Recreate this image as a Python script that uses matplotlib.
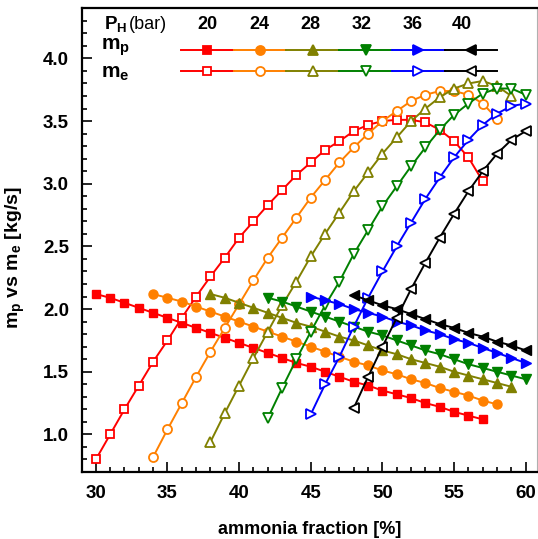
import matplotlib
matplotlib.use("Agg")
import matplotlib.pyplot as plt
import numpy as np

plt.rcParams["font.family"] = ["Liberation Sans", "DejaVu Sans"]
plt.rcParams["font.weight"] = "bold"
plt.rcParams["mathtext.fontset"] = "custom"
plt.rcParams["mathtext.rm"] = "Liberation Sans:bold"
plt.rcParams["mathtext.bf"] = "Liberation Sans:bold"
plt.rcParams["mathtext.it"] = "Liberation Sans:bold"
plt.rcParams["mathtext.default"] = "bf"

# high-side pressure levels (bar) and the ammonia fraction range of each curve
pressures = [20, 24, 28, 32, 36, 40]
x_start = [30, 34, 38, 42, 45, 48]
x_end = [57, 58, 59, 60, 60, 60]

# m_p [kg/s]
mp_20 = [2.12, 2.09, 2.05, 2.01, 1.97, 1.93, 1.89, 1.85, 1.81, 1.77, 1.73, 1.69, 1.65, 1.61,
         1.57, 1.54, 1.50, 1.46, 1.42, 1.39, 1.35, 1.32, 1.29, 1.25, 1.22, 1.18, 1.15, 1.12]
mp_24 = [2.12, 2.09, 2.06, 2.02, 1.98, 1.94, 1.90, 1.86, 1.82, 1.78, 1.74, 1.70, 1.66, 1.62,
         1.58, 1.55, 1.51, 1.48, 1.44, 1.41, 1.37, 1.34, 1.31, 1.27, 1.24]
mp_28 = [2.12, 2.09, 2.05, 2.01, 1.97, 1.93, 1.89, 1.86, 1.82, 1.78, 1.75, 1.71, 1.67, 1.64,
         1.60, 1.57, 1.54, 1.50, 1.47, 1.44, 1.41, 1.38]
mp_32 = [2.09, 2.06, 2.02, 1.98, 1.94, 1.90, 1.86, 1.82, 1.79, 1.75, 1.71, 1.67, 1.64, 1.60,
         1.56, 1.53, 1.50, 1.47, 1.44]
mp_36 = [2.10, 2.07, 2.04, 2.00, 1.97, 1.94, 1.90, 1.87, 1.83, 1.80, 1.76, 1.73, 1.69, 1.65,
         1.61, 1.57]
mp_40 = [2.11, 2.07, 2.03, 2.00, 1.96, 1.92, 1.88, 1.85, 1.81, 1.78, 1.74, 1.71, 1.67]

# m_e [kg/s]
me_20 = [0.80, 1.00, 1.20, 1.39, 1.58, 1.75, 1.93, 2.10, 2.26, 2.41, 2.57, 2.70, 2.83, 2.95,
         3.07, 3.17, 3.27, 3.34, 3.42, 3.47, 3.50, 3.51, 3.51, 3.49, 3.43, 3.34, 3.21, 3.02]
me_24 = [0.82, 1.04, 1.25, 1.46, 1.66, 1.85, 2.04, 2.23, 2.41, 2.57, 2.73, 2.89, 3.03, 3.17,
         3.29, 3.40, 3.50, 3.58, 3.66, 3.71, 3.74, 3.74, 3.71, 3.64, 3.52]
me_28 = [0.94, 1.17, 1.39, 1.61, 1.82, 2.03, 2.22, 2.42, 2.60, 2.77, 2.94, 3.09, 3.24, 3.37,
         3.50, 3.60, 3.69, 3.76, 3.80, 3.82, 3.78, 3.70]
me_32 = [1.13, 1.37, 1.60, 1.82, 2.03, 2.22, 2.44, 2.63, 2.82, 2.98, 3.14, 3.29, 3.43, 3.55,
         3.64, 3.72, 3.76, 3.76, 3.71]
me_36 = [1.16, 1.40, 1.62, 1.86, 2.09, 2.30, 2.50, 2.69, 2.88, 3.05, 3.21, 3.35, 3.47, 3.56,
         3.62, 3.64]
me_40 = [1.21, 1.46, 1.70, 1.93, 2.16, 2.37, 2.57, 2.76, 2.94, 3.10, 3.24, 3.35, 3.42]

mp_all = [mp_20, mp_24, mp_28, mp_32, mp_36, mp_40]
me_all = [me_20, me_24, me_28, me_32, me_36, me_40]

colors = ["#ff0000", "#ff8000", "#808000", "#008000", "#0000ff", "#000000"]
markers = ["s", "o", "^", "v", ">", "<"]
msizes = [6, 6.5, 7, 7, 7, 7]

fig = plt.figure(figsize=(5.38, 5.39), dpi=100)
ax = fig.add_axes([0.1515, 0.1243, 0.847, 0.8603])

for i in range(len(pressures)):
    x = np.arange(x_start[i], x_end[i] + 1)
    ax.plot(x, mp_all[i], color=colors[i], marker=markers[i], ms=msizes[i],
            mfc=colors[i], mec=colors[i], lw=1.4, zorder=3)
    ax.plot(x, me_all[i], color=colors[i], marker=markers[i], ms=msizes[i],
            mfc="white", mec=colors[i], mew=1.3, lw=1.4, zorder=3)

ax.set_xlim(29.0, 60.8)
ax.set_ylim(0.7, 4.4)
ax.set_xticks(np.arange(30, 61, 5))
ax.set_xticks(np.arange(30, 61, 1), minor=True)
ax.set_yticks(np.arange(1.0, 4.01, 0.5))
ax.set_yticks(np.arange(0.8, 4.35, 0.1), minor=True)
ax.yaxis.set_major_formatter(matplotlib.ticker.FormatStrFormatter("%.1f"))

ax.tick_params(which="both", direction="in", top=False, right=False, width=1.2,
               labelsize=13.5)
ax.tick_params(which="major", length=7, pad=9)
ax.tick_params(which="minor", length=3.6)
for lab in ax.get_xticklabels() + ax.get_yticklabels():
    lab.set_fontweight("bold")

for side in ["left", "bottom", "top"]:
    ax.spines[side].set_linewidth(1.6)
ax.spines["right"].set_linewidth(0.8)
ax.spines["right"].set_color("#b0b0b0")

ax.set_xlabel("ammonia fraction [%]", fontsize=13, fontweight="bold")
ax.set_ylabel("$m_p$ vs $m_e$ [kg/s]", fontsize=14, fontweight="bold")
ax.xaxis.set_label_coords(0.501, -0.105)
ax.yaxis.set_label_coords(-0.12, 0.463)

# hand-made legend in axes fraction
seg_x0 = 0.2184
seg_w = 0.1157
row_p = 0.911
row_e = 0.864
num_x = [0.2773, 0.3893, 0.5013, 0.6151, 0.7270, 0.8346]
for i in range(len(pressures)):
    xs = [seg_x0 + i * seg_w, seg_x0 + (i + 1) * seg_w]
    xm = seg_x0 + (i + 0.5) * seg_w
    for row, face in [(row_p, colors[i]), (row_e, "white")]:
        ax.plot(xs, [row, row], color=colors[i], lw=1.4, transform=ax.transAxes,
                clip_on=False, zorder=4)
        ax.plot([xm], [row], color=colors[i], marker=markers[i], ms=msizes[i],
                mfc=face, mec=colors[i], mew=1.3, transform=ax.transAxes,
                clip_on=False, zorder=5)
    ax.text(num_x[i], 0.9655, str(pressures[i]), transform=ax.transAxes,
            ha="center", va="center", fontsize=13, fontweight="bold")

ax.text(0.049, 0.9655, "$P_H$", transform=ax.transAxes, ha="left", va="center",
        fontsize=13.5)
ax.text(0.104, 0.9655, "(bar)", transform=ax.transAxes, ha="left", va="center",
        fontsize=13, fontweight="normal")
ax.text(0.042, row_p + 0.005, "$m_p$", transform=ax.transAxes, ha="left", va="center",
        fontsize=15)
ax.text(0.042, row_e - 0.005, "$m_e$", transform=ax.transAxes, ha="left", va="center",
        fontsize=15)

fig.savefig("out.png", dpi=100)
